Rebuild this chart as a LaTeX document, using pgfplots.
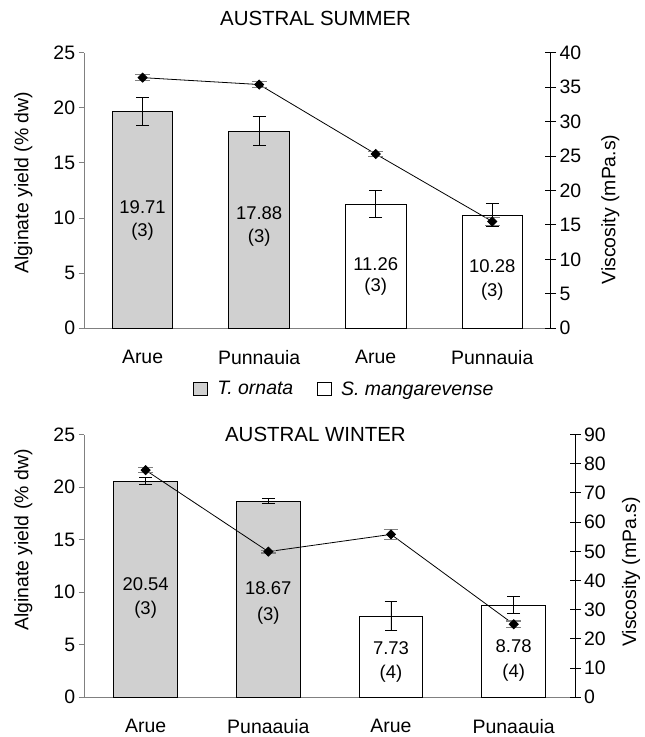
\documentclass[border=0pt]{standalone}
\usepackage{pgfplots}
\pgfplotsset{compat=1.18}
\usepackage{fontspec}
\setmainfont{Liberation Sans}
\definecolor{bargray}{RGB}{208,208,208}
\definecolor{axgray}{RGB}{128,128,128}
\begin{document}
\begin{tikzpicture}[font=\fontsize{19.5}{23}\selectfont]
\pgfplotsset{
 base/.style={scale only axis, xmin=-0.5, xmax=3.5, ymin=0, clip=false,
   /pgf/number format/assume math mode=true,
   ticklabel style={font=\fontsize{19.5}{23}\selectfont},
   label style={font=\fontsize{19.5}{23}\selectfont}},
 prim/.style={base, axis x line*=bottom, axis y line*=left,
   axis line style={-, axgray, line width=1pt},
   xtick={0,1,2,3}, major x tick style={draw=none},
   ytick style={axgray, line width=1pt}, tick align=outside, major tick length=5.7pt,
   ymax=25, ytick={0,5,...,25},
   xticklabel style={yshift=-13pt},
   ylabel={Alginate yield (\% dw)}},
 sec/.style={base, axis x line=none, axis y line*=right,
   axis line style={-, black, line width=1pt},
   tick style={black, line width=1pt}, tick align=center, major tick length=11pt,
   ylabel={Viscosity (mPa.s)}},
 barerr/.style={error bars/.cd, y dir=both, y explicit,
   error bar style={black,line width=1pt},
   error mark options={rotate=90, mark size=6.5pt, black, line width=1pt}},
 tornata/.style={ybar, bar width=0.52, bar shift=0pt, fill=bargray, draw=black, line width=0.9pt,
   legend image code/.code={\draw[fill=bargray,draw=black,line width=0.9pt] (0pt,-6pt) rectangle (14pt,7pt);},
   barerr},
 smang/.style={ybar, bar width=0.52, bar shift=0pt, fill=white, draw=black, line width=0.9pt,
   legend image code/.code={\draw[fill=white,draw=black,line width=0.9pt] (0pt,-6pt) rectangle (14pt,7pt);},
   barerr},
 visc/.style={black, line width=0.8pt, mark=square*, mark size=3.2pt,
   mark options={rotate=45, fill=black, solid},
   error bars/.cd, y dir=both, y explicit,
   error bar style={axgray, line width=1.2pt},
   error mark options={rotate=90, mark size=7.5pt, axgray, line width=1.2pt}},
}
% ---------------- AUSTRAL SUMMER ----------------
\begin{axis}[prim, at={(84.5pt,408pt)}, anchor=south west, width=467.5pt, height=276pt,
   xticklabels={Arue,Punnauia,Arue,Punnauia},
   ylabel style={at={(axis description cs:-0.1305,0.529)}, anchor=center},
   legend style={at={(axis description cs:0.558,-0.221)}, anchor=center, draw=none, fill=none,
     legend columns=2, font=\fontsize{19.5}{23}\selectfont\itshape,
     /tikz/every odd column/.append style={column sep=7pt},
     /tikz/every even column/.append style={column sep=22pt}},
   legend cell align=left]
\addplot[tornata] coordinates {(0,19.71) +- (0,1.27) (1,17.88) +- (0,1.3)};
\addplot[smang] coordinates {(2,11.26) +- (0,1.25) (3,10.28) +- (0,1.05)};
\legend{T. ornata, S. mangarevense}
\node[font=\fontsize{18.5}{22}\selectfont] at (axis cs:0,10.96) {19.71};
\node[font=\fontsize{18.5}{22}\selectfont] at (axis cs:0,8.8) {(3)};
\node[font=\fontsize{18.5}{22}\selectfont] at (axis cs:1,10.45) {17.88};
\node[font=\fontsize{18.5}{22}\selectfont] at (axis cs:1,8.2) {(3)};
\node[font=\fontsize{18.5}{22}\selectfont] at (axis cs:2,5.8) {11.26};
\node[font=\fontsize{18.5}{22}\selectfont] at (axis cs:2,3.8) {(3)};
\node[font=\fontsize{18.5}{22}\selectfont] at (axis cs:3,5.6) {10.28};
\node[font=\fontsize{18.5}{22}\selectfont] at (axis cs:3,3.3) {(3)};
\node[font=\fontsize{20.5}{24}\selectfont, yshift=34.6pt] at (axis description cs:0.496,1) {AUSTRAL SUMMER};
\end{axis}
\begin{axis}[sec, at={(84.5pt,408pt)}, anchor=south west, width=467.5pt, height=276pt,
   ymax=40, ytick={0,5,...,40},
   ylabel style={at={(axis description cs:1.128,0.431)}, anchor=center}]
\addplot[visc] coordinates {(0,36.4) +- (0,0.4) (1,35.4) +- (0,0.4) (2,25.3) +- (0,0.4) (3,15.5) +- (0,0.55)};
\end{axis}
% ---------------- AUSTRAL WINTER ----------------
\begin{axis}[prim, at={(84.5pt,38pt)}, anchor=south west, width=492pt, height=263.3pt,
   xticklabels={Arue,Punaauia,Arue,Punaauia},
   ylabel style={at={(axis description cs:-0.124,0.598)}, anchor=center}]
\addplot[tornata] coordinates {(0,20.54) +- (0,0.33) (1,18.67) +- (0,0.25)};
\addplot[smang] coordinates {(2,7.73) +- (0,1.4) (3,8.78) +- (0,0.85)};
\node[font=\fontsize{18.5}{22}\selectfont] at (axis cs:0,10.73) {20.54};
\node[font=\fontsize{18.5}{22}\selectfont] at (axis cs:0,8.3) {(3)};
\node[font=\fontsize{18.5}{22}\selectfont] at (axis cs:1,10.35) {18.67};
\node[font=\fontsize{18.5}{22}\selectfont] at (axis cs:1,7.8) {(3)};
\node[font=\fontsize{18.5}{22}\selectfont] at (axis cs:2,4.65) {7.73};
\node[font=\fontsize{18.5}{22}\selectfont] at (axis cs:2,2.2) {(4)};
\node[font=\fontsize{18.5}{22}\selectfont] at (axis cs:3,4.9) {8.78};
\node[font=\fontsize{18.5}{22}\selectfont] at (axis cs:3,2.3) {(4)};
\node[font=\fontsize{20.5}{24}\selectfont] at (axis description cs:0.471,1) {AUSTRAL WINTER};
\end{axis}
\begin{axis}[sec, at={(84.5pt,38pt)}, anchor=south west, width=492pt, height=263.3pt,
   ymax=90, ytick={0,10,...,90},
   ylabel style={at={(axis description cs:1.114,0.477)}, anchor=center}]
\addplot[visc] coordinates {(0,77.8) +- (0,0.8) (1,49.9) +- (0,0.5) (2,55.8) +- (0,1.7) (3,25) +- (0,1.1)};
\end{axis}
\path (0pt,0pt) rectangle (646pt,737pt);
\end{tikzpicture}
\end{document}
